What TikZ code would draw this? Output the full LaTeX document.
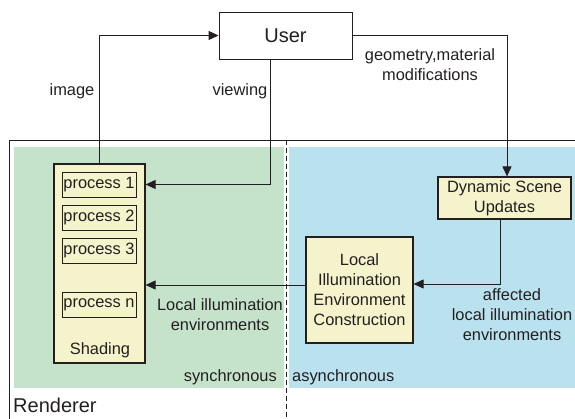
\documentclass[tikz,border=0pt]{standalone}
\usepackage{fontspec}
\setmainfont{Liberation Sans}
\usetikzlibrary{arrows.meta}
\definecolor{greenbg}{RGB}{196,227,202}
\definecolor{bluebg}{RGB}{185,226,238}
\definecolor{boxfill}{RGB}{245,243,203}
\definecolor{ink}{RGB}{35,31,32}
\begin{document}
\begin{tikzpicture}[x=1pt,y=-1pt,
  txt/.style={font=\fontsize{16.4}{20}\selectfont, text=ink, align=center, inner sep=0pt},
  bigtxt/.style={font=\fontsize{20}{24}\selectfont, text=ink, inner sep=0pt},
  plainbox/.style={draw=ink, line width=0.9pt, fill=white, inner sep=0pt},
  ybox/.style={draw=ink, line width=1.2pt, fill=boxfill, inner sep=0pt, font=\fontsize{16.4}{20}\selectfont, text=ink, align=center},
  pbox/.style={draw=ink, line width=0.9pt, fill=boxfill, inner sep=0pt, minimum width=74pt, minimum height=25pt, font=\fontsize{16.4}{20}\selectfont, text=ink},
  arr/.style={draw=ink, line width=0.9pt, -{Triangle[length=10pt,width=9pt]}}
]
\useasboundingbox (0,0) rectangle (575,419);
% background regions
\fill[greenbg] (14,147) rectangle (284,388);
\fill[bluebg] (289,147) rectangle (575,388);
% renderer frame
\draw[ink, line width=0.8pt] (9,419) -- (9,140) -- (575,140);
\draw[ink, line width=0.8pt, dash pattern=on 5pt off 3pt] (286,140) -- (286,419);

% nodes
\node[plainbox, minimum width=133pt, minimum height=47pt, font=\fontsize{20}{24}\selectfont, text=ink] (user) at (285.5,35.5) {User};
\node[ybox, minimum width=91pt, minimum height=199pt] (shading) at (99.5,263.5) {};
\node[pbox] (p1) at (99,184.5) {process 1};
\node[pbox] (p2) at (99,217.5) {process 2};
\node[pbox] (p3) at (99,250.5) {process 3};
\node[pbox] (pn) at (99,304.5) {process n};
\node[txt] (shadlab) at (100,350) {Shading};
\node[ybox, minimum width=133pt, minimum height=42pt] (dsu) at (504.5,198) {Dynamic Scene\\Updates};
\node[ybox, minimum width=107pt, minimum height=106pt] (liec) at (359.5,290) {Local\\Illumination\\Environment\\Construction};

% labels
\node[txt] (limage) at (72,91) {image};
\node[txt] (lview) at (240,91) {viewing};
\node[txt] (lgeo) at (430,64.5) {geometry,material\\modifications};
\node[txt] (lloc) at (220,315) {Local illumination\\environments};
\node[txt] (laff) at (512,315) {affected\\local illumination\\environments};
\node[txt, anchor=east] (lsync) at (277,377) {synchronous};
\node[txt, anchor=west] (lasync) at (292,377) {asynchronous};
\node[bigtxt, anchor=west] (lrend) at (13,405) {Renderer};

% connectors
\draw[arr] (shading.north) |- (user.west);
\coordinate (vstart) at ([xshift=-15.5pt]user.south);
\coordinate (vend) at (shading.east |- p1.center);
\draw[arr] (vstart) |- (vend);
\coordinate (gend) at ([xshift=2.5pt]dsu.north);
\draw[arr] (user.east) -| (gend);
\coordinate (astart) at ([xshift=-4pt]dsu.south);
\coordinate (aend) at ([yshift=6pt]liec.east);
\draw[arr] (astart) |- (aend);
\coordinate (lstart) at ([yshift=5pt]liec.west);
\draw[arr] (lstart) -- (lstart -| shading.east);
\end{tikzpicture}
\end{document}
